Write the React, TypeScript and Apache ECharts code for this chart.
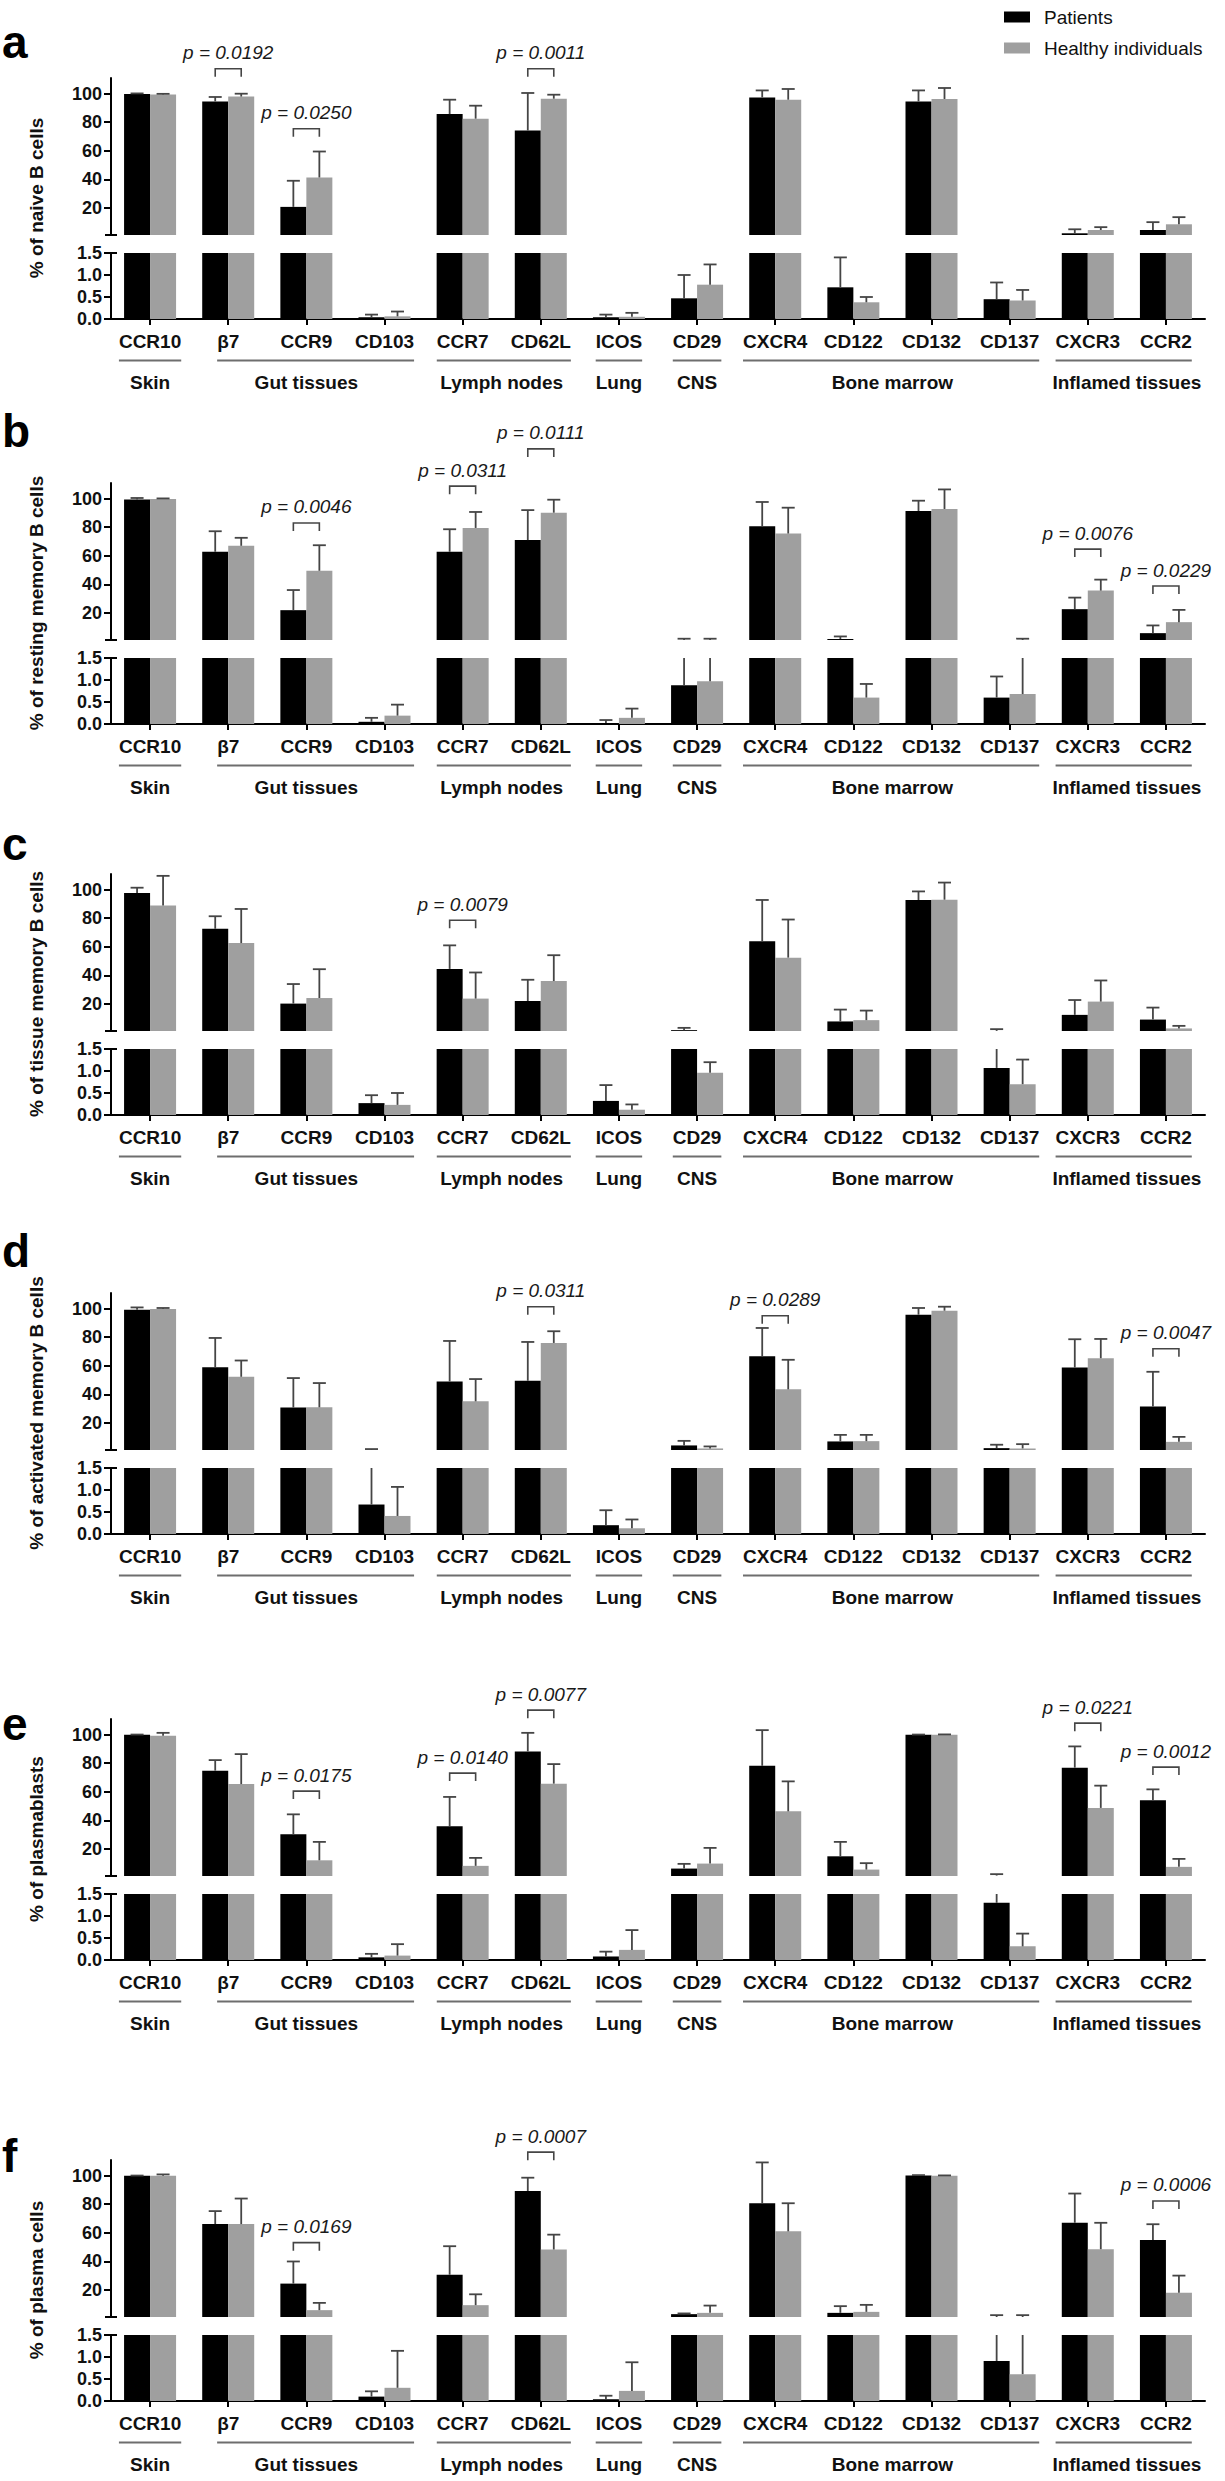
import React, { useEffect, useRef } from 'react';
import * as echarts from 'echarts';

// ---------- data ----------
const categories = ['CCR10', 'β7', 'CCR9', 'CD103', 'CCR7', 'CD62L', 'ICOS', 'CD29', 'CXCR4', 'CD122', 'CD132', 'CD137', 'CXCR3', 'CCR2'];
const groupNames = ['Skin', 'Gut tissues', 'Lymph nodes', 'Lung', 'CNS', 'Bone marrow', 'Inflamed tissues'];
const groupStart = [0, 1, 4, 6, 7, 8, 12];
const groupEnd = [0, 3, 5, 6, 7, 11, 13];
const upperTicks = [20, 40, 60, 80, 100];
const lowerTicks = [0, 0.5, 1, 1.5];

const panelLetters = ['a', 'b', 'c', 'd', 'e', 'f'];
const panelTitles = [
  '% of naive B cells',
  '% of resting memory B cells',
  '% of tissue memory B cells',
  '% of activated memory B cells',
  '% of plasmablasts',
  '% of plasma cells',
];

// panel a: naive B cells
const aPat = [99.8, 94.6, 20.7, 0.04, 85.7, 74.2, 0.04, 0.47, 97.4, 0.72, 94.6, 0.45, 2.2, 4.5];
const aPatErr = [100.2, 97.7, 39, 0.1, 95.8, 100.5, 0.1, 1.0, 102.3, 1.4, 102.3, 0.83, 5, 10];
const aHea = [99.5, 98, 41.3, 0.06, 82.5, 96.5, 0.05, 0.78, 95.8, 0.38, 96.3, 0.42, 4.5, 8.5];
const aHeaErr = [99.9, 100, 59.5, 0.17, 91.6, 99.3, 0.14, 1.24, 103.3, 0.5, 104, 0.66, 6.5, 13.5];
const aBrCat = [1, 2, 5];
const aBrY = [117.5, 75.4, 117.5];
const aBrP = ['0.0192', '0.0250', '0.0011'];

// panel b: resting memory B cells
const bPat = [99.5, 62.8, 21.9, 0.05, 62.8, 71, 0.02, 0.88, 80.7, 1.7, 91.4, 0.6, 22.6, 5.8];
const bPatErr = [100.5, 77.2, 36, 0.14, 78.6, 92, 0.09, 1.9, 97.7, 3.5, 98.6, 1.08, 30.7, 11.2];
const bHea = [99.8, 67, 49.5, 0.19, 79.5, 90.2, 0.14, 0.97, 75.6, 0.6, 92.8, 0.68, 35.6, 13.5];
const bHeaErr = [100.2, 72.6, 67.4, 0.44, 90.7, 99.3, 0.35, 1.9, 93.7, 0.91, 106.5, 1.9, 43.3, 22.1];
const bBrCat = [2, 4, 5, 12, 13];
const bBrY = [83, 108.8, 134.9, 64.7, 38.8];
const bBrP = ['0.0046', '0.0311', '0.0111', '0.0076', '0.0229'];

// panel c: tissue memory B cells
const cPat = [97.7, 72.6, 20.2, 0.27, 44.5, 22, 0.32, 1.6, 63.8, 7.7, 92.8, 1.07, 12.3, 9];
const cPatErr = [101.4, 81.4, 33.9, 0.45, 61, 36.9, 0.68, 3.2, 92.8, 16, 98.8, 2.3, 22.7, 17.4];
const cHea = [88.9, 62.6, 24.1, 0.23, 23.7, 36, 0.12, 0.96, 52.4, 8.6, 93, 0.7, 21.6, 2.8];
const cHeaErr = [109.7, 86.5, 44.3, 0.5, 42, 54.1, 0.24, 1.2, 79.1, 15.3, 105, 1.26, 36.4, 4.6];
const cBrCat = [4];
const cBrY = [78.6];
const cBrP = ['0.0079'];

// panel d: activated memory B cells
const dPat = [99.3, 59, 30.7, 0.67, 49, 49.5, 0.2, 4.2, 66.7, 7, 95.8, 2.3, 58.8, 31.4];
const dPatErr = [100.9, 79.5, 51.4, 1.65, 77.4, 76.7, 0.54, 7.4, 86.5, 11.6, 100.5, 4.7, 78.6, 55.8];
const dHea = [99.8, 52.3, 30.9, 0.41, 35.1, 76, 0.13, 2.1, 43.5, 7.2, 98.6, 2.1, 65.3, 6.7];
const dHeaErr = [100.5, 63.7, 47.9, 1.07, 50.7, 84.2, 0.33, 3.5, 64.2, 11.6, 101.4, 5.1, 78.8, 10.2];
const dBrCat = [5, 8, 13];
const dBrY = [101.4, 95.1, 71.9];
const dBrP = ['0.0311', '0.0289', '0.0047'];

// panel e: plasmablasts
const ePat = [99.9, 74.8, 30.2, 0.06, 35.8, 88.3, 0.08, 6.2, 78.2, 14.8, 99.9, 1.3, 76.9, 54];
const ePatErr = [100.1, 82.2, 44.2, 0.14, 56.4, 101.3, 0.19, 9.5, 103.2, 24.9, 100.1, 2.3, 91.8, 61.7];
const eHea = [99.2, 65.4, 12, 0.1, 8.1, 65.7, 0.23, 9.7, 46.3, 5.5, 100, 0.31, 48.7, 7.4];
const eHeaErr = [101.3, 86.4, 24.9, 0.36, 13.7, 79.4, 0.68, 20.7, 67.3, 10, 100.2, 0.6, 64.3, 13];
const eBrCat = [2, 4, 5, 12, 13];
const eBrY = [60.5, 73.1, 117.2, 108.1, 77.3];
const eBrP = ['0.0175', '0.0140', '0.0077', '0.0221', '0.0012'];

// panel f: plasma cells
const fPat = [99.9, 66.1, 24.4, 0.1, 30.6, 89.3, 0.04, 3, 80.7, 3.9, 100.2, 0.91, 67, 55];
const fPatErr = [100.1, 75.2, 39.9, 0.22, 50.6, 98.6, 0.12, 3.5, 109.3, 8.6, 100.4, 2.3, 87.5, 66];
const fHea = [100, 66.1, 5.8, 0.3, 9.3, 48.3, 0.23, 3.9, 61, 4.6, 100, 0.61, 48.5, 18];
const fHeaErr = [100.9, 84, 10.9, 1.14, 16.9, 58.7, 0.88, 9, 80.7, 9.5, 100.2, 2.3, 67, 30];
const fBrCat = [2, 5, 13];
const fBrY = [53.1, 116.5, 82.3];
const fBrP = ['0.0169', '0.0007', '0.0006'];

const panels = [
  { pat: aPat, patErr: aPatErr, hea: aHea, heaErr: aHeaErr, brCat: aBrCat, brY: aBrY, brP: aBrP },
  { pat: bPat, patErr: bPatErr, hea: bHea, heaErr: bHeaErr, brCat: bBrCat, brY: bBrY, brP: bBrP },
  { pat: cPat, patErr: cPatErr, hea: cHea, heaErr: cHeaErr, brCat: cBrCat, brY: cBrY, brP: cBrP },
  { pat: dPat, patErr: dPatErr, hea: dHea, heaErr: dHeaErr, brCat: dBrCat, brY: dBrY, brP: dBrP },
  { pat: ePat, patErr: ePatErr, hea: eHea, heaErr: eHeaErr, brCat: eBrCat, brY: eBrY, brP: eBrP },
  { pat: fPat, patErr: fPatErr, hea: fHea, heaErr: fHeaErr, brCat: fBrCat, brY: fBrY, brP: fBrP },
];

// ---------- layout ----------
const W = 1225;
const H = 2481;
const FONT = "'Liberation Sans', Arial, Helvetica, sans-serif";
const panelOffsets = [0, 405, 796, 1215, 1641, 2082];
const letterY = [42, 431, 844, 1251, 1724, 2156];
const UMIN = 1;
const UMAX = 111;
const BREAK = 1.5;
const GRID_LEFT = 111;
const GRID_RIGHT = 20;
const UP_TOP = 78;
const UP_H = 157;
const LO_TOP = 253;
const LO_H = 66;
const BLACK = '#000000';
const GRAY = '#9f9f9f';
const ERR = '#454545';
const HALF = 13;

function line(x1: number, y1: number, x2: number, y2: number, stroke = ERR, lw = 1.8) {
  return { type: 'line', shape: { x1, y1, x2, y2 }, style: { stroke, lineWidth: lw } };
}

function textEl(text: string, x: number, y: number, size: number, weight: string, style: string, fill = '#111') {
  return {
    type: 'text',
    style: {
      text, x, y,
      fontSize: size, fontWeight: weight, fontStyle: style, fontFamily: FONT,
      fill,
      align: 'center', verticalAlign: 'middle',
      textAlign: 'center', textVerticalAlign: 'middle',
    },
  };
}

function buildOption(labelW: number[]) {
  const grids: any[] = [];
  const xAxes: any[] = [];
  const yAxes: any[] = [];
  const series: any[] = [];
  const graphics: any[] = [];

  const axisLineStyle = { color: '#000', width: 2 };
  const labelFont = { fontSize: 18, fontWeight: 'bold', color: '#111', fontFamily: FONT };

  panels.forEach((pn, i) => {
    const o = panelOffsets[i];
    const ui = 2 * i;
    const li = 2 * i + 1;
    grids.push({ left: GRID_LEFT, right: GRID_RIGHT, top: o + UP_TOP, height: UP_H });
    grids.push({ left: GRID_LEFT, right: GRID_RIGHT, top: o + LO_TOP, height: LO_H });

    xAxes.push({ type: 'category', gridIndex: ui, data: categories, show: false });
    xAxes.push({
      type: 'category', gridIndex: li, data: categories,
      axisLine: { show: true, lineStyle: axisLineStyle },
      axisTick: { show: true, alignWithLabel: true, length: 6, lineStyle: axisLineStyle },
      axisLabel: { interval: 0, margin: 13, fontSize: 19, fontWeight: 'bold', color: '#111', fontFamily: FONT },
      splitLine: { show: false },
    });

    yAxes.push({
      type: 'value', gridIndex: ui, min: UMIN, max: UMAX,
      axisLine: { show: true, lineStyle: axisLineStyle },
      axisTick: { show: true, length: 7, lineStyle: axisLineStyle, customValues: upperTicks },
      axisLabel: { ...labelFont, margin: 9, customValues: upperTicks },
      splitLine: { show: false },
    });
    yAxes.push({
      type: 'value', gridIndex: li, min: 0, max: 1.5, interval: 0.5,
      axisLine: { show: true, lineStyle: axisLineStyle },
      axisTick: { show: true, length: 7, lineStyle: axisLineStyle, customValues: lowerTicks },
      axisLabel: { ...labelFont, margin: 9, customValues: lowerTicks, formatter: (v: number) => v.toFixed(1) },
      splitLine: { show: false },
    });

    const barCommon = { type: 'bar', barWidth: 26, barGap: '0%', clip: true, silent: true, emphasis: { disabled: true } };
    series.push({ ...barCommon, name: 'Patients', xAxisIndex: ui, yAxisIndex: ui, itemStyle: { color: BLACK }, data: pn.pat.map((v) => (v > BREAK ? v : '-')) });
    series.push({ ...barCommon, name: 'Healthy individuals', xAxisIndex: ui, yAxisIndex: ui, itemStyle: { color: GRAY }, data: pn.hea.map((v) => (v > BREAK ? v : '-')) });
    series.push({ ...barCommon, name: 'Patients', xAxisIndex: li, yAxisIndex: li, itemStyle: { color: BLACK }, data: pn.pat });
    series.push({ ...barCommon, name: 'Healthy individuals', xAxisIndex: li, yAxisIndex: li, itemStyle: { color: GRAY }, data: pn.hea });

    const errData = categories
      .map((_, k) => [k, pn.pat[k], pn.patErr[k], 0])
      .concat(categories.map((_, k) => [k, pn.hea[k], pn.heaErr[k], 1]));

    series.push({
      type: 'custom', name: 'errUpper', xAxisIndex: ui, yAxisIndex: ui, silent: true, z: 5,
      data: errData,
      renderItem: (params: any, api: any) => {
        const cat = api.value(0), v = api.value(1), e = api.value(2), who = api.value(3);
        const x = api.coord([cat, UMIN])[0] + (who ? HALF : -HALF);
        if (!(e > BREAK)) return { type: 'group', children: [] };
        const y1 = api.coord([cat, Math.max(v, UMIN)])[1];
        const y2 = api.coord([cat, e])[1];
        return { type: 'group', children: [line(x, y1, x, y2), line(x - 6.5, y2, x + 6.5, y2)] };
      },
    });
    series.push({
      type: 'custom', name: 'errLower', xAxisIndex: li, yAxisIndex: li, silent: true, z: 5,
      data: errData,
      renderItem: (params: any, api: any) => {
        const cat = api.value(0), v = api.value(1), e = api.value(2), who = api.value(3);
        const x = api.coord([cat, 0])[0] + (who ? HALF : -HALF);
        if (v >= BREAK) return { type: 'group', children: [] };
        const top = Math.min(e, BREAK);
        const y1 = api.coord([cat, v])[1];
        const y2 = api.coord([cat, top])[1];
        const ch: any[] = [line(x, y1, x, y2)];
        if (e <= BREAK) ch.push(line(x - 6.5, y2, x + 6.5, y2));
        return { type: 'group', children: ch };
      },
    });

    const brP = pn.brP;
    series.push({
      type: 'custom', name: 'brackets', xAxisIndex: ui, yAxisIndex: ui, silent: true, z: 6,
      data: pn.brCat.map((c, k) => [c, pn.brY[k]]),
      renderItem: (params: any, api: any) => {
        const c = api.coord([api.value(0), api.value(1)]);
        const x1 = c[0] - HALF, x2 = c[0] + HALF, y = c[1];
        return {
          type: 'group',
          children: [
            { type: 'polyline', shape: { points: [[x1, y + 8], [x1, y], [x2, y], [x2, y + 8]] }, style: { stroke: ERR, lineWidth: 1.6, fill: 'none' } },
            textEl('p = ' + brP[params.dataIndex], c[0], y - 16, 19, 'normal', 'italic', '#1a1a1a'),
          ],
        };
      },
    });

    series.push({
      type: 'custom', name: 'groups', xAxisIndex: li, yAxisIndex: li, silent: true, z: 6,
      data: groupStart.map((s, k) => [s, groupEnd[k]]),
      renderItem: (params: any, api: any) => {
        const s = api.value(0), e = api.value(1);
        const p1 = api.coord([s, 0]);
        const p2 = api.coord([e, 0]);
        const xa = p1[0] - labelW[s] / 2;
        const xb = p2[0] + labelW[e] / 2;
        const y0 = p1[1];
        return {
          type: 'group',
          children: [
            line(xa, y0 + 41.5, xb, y0 + 41.5, '#6e6e6e', 2),
            textEl(groupNames[params.dataIndex], (p1[0] + p2[0]) / 2, y0 + 63.5, 19, 'bold', 'normal', '#111'),
          ],
        };
      },
    });

    // panel letter
    graphics.push({
      type: 'text', x: 2, y: letterY[i],
      style: { text: panelLetters[i], fontSize: 46, fontWeight: 'bold', fontFamily: FONT, fill: '#000', align: 'left', verticalAlign: 'middle', textAlign: 'left', textVerticalAlign: 'middle' },
    });
    // y-axis title
    graphics.push({
      type: 'text', x: 36, y: o + 198, rotation: Math.PI / 2,
      style: { text: panelTitles[i], fontSize: 19, fontWeight: 'bold', fontFamily: FONT, fill: '#111', align: 'center', verticalAlign: 'middle', textAlign: 'center', textVerticalAlign: 'middle' },
    });
    // axis-break end marks
    graphics.push({ type: 'line', shape: { x1: GRID_LEFT - 6, y1: o + UP_TOP + UP_H, x2: GRID_LEFT + 6, y2: o + UP_TOP + UP_H }, style: { stroke: '#000', lineWidth: 2 } });
    graphics.push({ type: 'line', shape: { x1: GRID_LEFT - 6, y1: o + LO_TOP, x2: GRID_LEFT + 6, y2: o + LO_TOP }, style: { stroke: '#000', lineWidth: 2 } });
  });

  return {
    animation: false,
    backgroundColor: '#ffffff',
    textStyle: { fontFamily: FONT },
    legend: {
      data: ['Patients', 'Healthy individuals'],
      orient: 'vertical',
      left: 999,
      top: 2,
      itemWidth: 26,
      itemHeight: 11,
      itemGap: 11,
      icon: 'rect',
      selectedMode: false,
      textStyle: { fontSize: 19, fontFamily: FONT, color: '#111', lineHeight: 20, padding: [0, 0, 0, 9] },
    },
    grid: grids,
    xAxis: xAxes,
    yAxis: yAxes,
    series,
    graphic: { elements: graphics },
  };
}

export default function App() {
  const ref = useRef<HTMLDivElement>(null);
  useEffect(() => {
    document.body.style.margin = '0';
    if (!ref.current) return;
    const canvas = document.createElement('canvas');
    const ctx = canvas.getContext('2d');
    let labelW = categories.map(() => 60);
    if (ctx) {
      ctx.font = `bold 19px ${FONT}`;
      labelW = categories.map((c) => ctx.measureText(c).width);
    }
    const chart = echarts.init(ref.current, null, { renderer: 'svg', width: W, height: H });
    chart.setOption(buildOption(labelW) as any);
    return () => chart.dispose();
  }, []);
  return <div ref={ref} style={{ width: W, height: H }} />;
}
